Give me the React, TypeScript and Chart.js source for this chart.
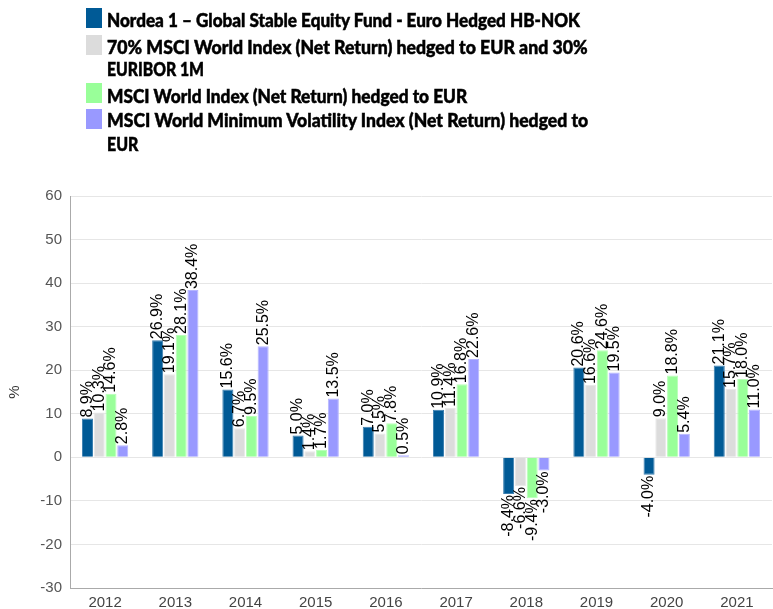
import React, { useEffect, useLayoutEffect, useRef } from "react";
import { Chart, registerables } from "chart.js";

Chart.register(...registerables);

const years = ["2012", "2013", "2014", "2015", "2016", "2017", "2018", "2019", "2020", "2021"];
const fundValues = [8.9, 26.9, 15.6, 5.0, 7.0, 10.9, -8.4, 20.6, -4.0, 21.1];
const blendValues = [10.3, 19.1, 6.7, 1.4, 5.5, 11.4, -6.6, 16.6, 9.0, 15.7];
const worldValues = [14.6, 28.1, 9.5, 1.7, 7.8, 16.8, -9.4, 24.6, 18.8, 18.0];
const minVolValues = [2.8, 38.4, 25.5, 13.5, 0.5, 22.6, -3.0, 19.5, 5.4, 11.0];

const seriesNames = [
  "Nordea 1 – Global Stable Equity Fund - Euro Hedged HB-NOK",
  "70% MSCI World Index (Net Return) hedged to EUR and 30% EURIBOR 1M",
  "MSCI World Index (Net Return) hedged to EUR",
  "MSCI World Minimum Volatility Index (Net Return) hedged to EUR",
];
const legendLines = [
  ["Nordea 1 – Global Stable Equity Fund - Euro Hedged HB-NOK"],
  ["70% MSCI World Index (Net Return) hedged to EUR and 30%", "EURIBOR 1M"],
  ["MSCI World Index (Net Return) hedged to EUR"],
  ["MSCI World Minimum Volatility Index (Net Return) hedged to", "EUR"],
];
const seriesColors = ["#005a96", "#dcdcdc", "#99ff99", "#9999ff"];
const borderColors = ["#3a7fb0", "#e8e8e8", "#b8ffb8", "#b5b5ff"];

// legend layout (pixels)
const legendBoxTops = [8, 35, 83, 109];
const legendLineCenters = [[20], [47, 69], [96], [120, 144]];
const legendLineWidths = [[473], [481, 97], [360], [481, 31]];

const valueLabelPlugin = {
  id: "valueLabels",
  afterDatasetsDraw(chart: any) {
    const ctx = chart.ctx;
    ctx.save();
    ctx.font = "16px 'Liberation Sans', Arial, sans-serif";
    ctx.fillStyle = "#000";
    ctx.textBaseline = "middle";
    chart.data.datasets.forEach((ds: any, di: number) => {
      const meta = chart.getDatasetMeta(di);
      meta.data.forEach((bar: any, i: number) => {
        const v = ds.data[i];
        const txt = v.toFixed(1) + "%";
        ctx.save();
        ctx.translate(bar.x, bar.y);
        ctx.rotate(-Math.PI / 2);
        if (v >= 0) {
          ctx.textAlign = "left";
          ctx.fillText(txt, 1, 0);
        } else {
          ctx.textAlign = "right";
          ctx.fillText(txt, -1, 0);
        }
        ctx.restore();
      });
    });
    ctx.restore();
  },
};

export default function App() {
  const canvasRef = useRef<HTMLCanvasElement | null>(null);
  const legendRef = useRef<HTMLDivElement | null>(null);

  useLayoutEffect(() => {
    const root = legendRef.current;
    if (!root) return;
    const spans = root.querySelectorAll("span[data-w]");
    spans.forEach((el: any) => {
      const target = parseFloat(el.getAttribute("data-w"));
      const w = el.offsetWidth;
      if (w > 0) el.style.transform = `scaleX(${target / w})`;
    });
  }, []);

  useEffect(() => {
    if (!canvasRef.current) return;
    const data = [fundValues, blendValues, worldValues, minVolValues];
    const chart = new Chart(canvasRef.current, {
      type: "bar",
      data: {
        labels: years,
        datasets: data.map((d, i) => ({
          label: seriesNames[i],
          data: d,
          backgroundColor: seriesColors[i],
          borderColor: borderColors[i],
          borderWidth: 1,
          categoryPercentage: 0.67,
          barPercentage: 0.94,
        })),
      },
      options: {
        animation: false,
        responsive: false,
        maintainAspectRatio: false,
        layout: { padding: { top: 196, right: 1, bottom: 0, left: 0 } },
        plugins: {
          legend: { display: false },
          tooltip: { enabled: false },
        },
        scales: {
          x: {
            afterFit: (scale: any) => {
              scale.height = 21;
            },
            grid: { display: false, drawTicks: false },
            border: { display: true, color: "#aaaaaa", width: 1 },
            ticks: {
              color: "#444",
              font: { size: 15, family: "'Liberation Sans', Arial, sans-serif" },
              padding: 6,
            },
          },
          y: {
            min: -30,
            max: 60,
            afterFit: (scale: any) => {
              scale.width = 70;
            },
            ticks: {
              stepSize: 10,
              color: "#555",
              padding: 8,
              font: { size: 15, family: "'Liberation Sans', Arial, sans-serif" },
            },
            grid: { color: "#e6e6e6", drawTicks: false },
            border: { display: true, color: "#aaaaaa", width: 1 },
            title: {
              display: true,
              text: "%",
              color: "#333",
              font: { size: 15, family: "'Liberation Sans', Arial, sans-serif" },
              padding: { top: 6, bottom: 0 },
            },
          },
        },
      },
      plugins: [valueLabelPlugin],
    });
    return () => chart.destroy();
  }, []);

  return (
    <div style={{ position: "absolute", left: 0, top: 0, width: 773, height: 609, background: "#fff" }}>
      <canvas ref={canvasRef} width={773} height={609} style={{ position: "absolute", left: 0, top: 0 }} />
      <div
        ref={legendRef}
        style={{
          position: "absolute",
          left: 0,
          top: 0,
          fontFamily: "'Lato', 'Roboto', sans-serif",
          fontWeight: 900,
          fontSize: 19,
          lineHeight: "22px",
          color: "#000",
          WebkitTextStroke: "0.5px #000",
        }}
      >
        {legendLines.map((lines, i) => (
          <React.Fragment key={i}>
            <div
              style={{
                position: "absolute",
                left: 86,
                top: legendBoxTops[i],
                width: 16,
                height: 20,
                background: seriesColors[i],
              }}
            />
            {lines.map((l, j) => (
              <span
                key={j}
                data-w={legendLineWidths[i][j]}
                style={{
                  position: "absolute",
                  left: 107,
                  top: legendLineCenters[i][j] - 11,
                  whiteSpace: "nowrap",
                  display: "inline-block",
                  transformOrigin: "0 50%",
                }}
              >
                {l}
              </span>
            ))}
          </React.Fragment>
        ))}
      </div>
    </div>
  );
}
